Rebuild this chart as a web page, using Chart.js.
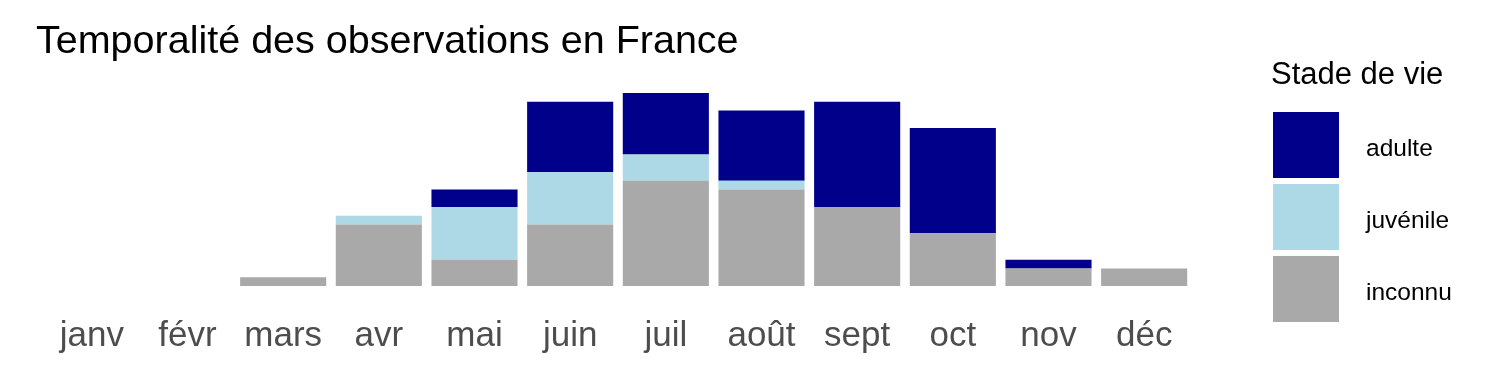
<!DOCTYPE html>
<html>
<head>
<meta charset="utf-8">
<script src="https://cdn.jsdelivr.net/npm/chart.js@4"></script>
<style>
  html, body { margin: 0; padding: 0; background: #fff; }
  #wrap { width: 1500px; height: 375px; }
</style>
</head>
<body>
<div id="wrap"><canvas id="c" width="1500" height="375"></canvas></div>
<script>
// données (nombre d'observations par mois)
var mois = ["janv", "févr", "mars", "avr", "mai", "juin", "juil", "août", "sept", "oct", "nov", "déc"];
var inconnu  = [0, 0, 1, 7, 3, 7, 12, 11, 9, 6, 2, 2];
var juvenile = [0, 0, 0, 1, 6, 6, 3, 1, 0, 0, 0, 0];
var adulte   = [0, 0, 0, 0, 2, 8, 7, 8, 12, 12, 1, 0];

var titre = "Temporalité des observations en France";
var titreLegende = "Stade de vie";
var FONT = "'Liberation Sans', Arial, sans-serif";

// légende + titre dessinés à la main, façon ggplot
var decor = {
    id: "decor",
    afterDraw: function (chart) {
        var ctx = chart.ctx;
        ctx.save();
        ctx.fillStyle = "#000";
        ctx.textAlign = "left";
        ctx.textBaseline = "alphabetic";
        ctx.font = "39.5px " + FONT;
        ctx.fillText(titre, 36, 53);

        ctx.font = "31px " + FONT;
        ctx.fillText(titreLegende, 1271, 84);

        // ordre de la légende : adulte, juvénile, inconnu
        var ordre = [2, 1, 0];
        ctx.font = "24.5px " + FONT;
        ctx.textBaseline = "middle";
        ordre.forEach(function (i, k) {
            var ds = chart.data.datasets[i];
            var y = 112 + k * 72;
            ctx.fillStyle = ds.backgroundColor;
            ctx.fillRect(1273, y, 66, 66);
            ctx.fillStyle = "#000";
            ctx.fillText(ds.label, 1366, y + 37);
        });
        ctx.restore();
    }
};

new Chart(document.getElementById("c").getContext("2d"), {
    type: "bar",
    data: {
        labels: mois,
        datasets: [
            { label: "inconnu",  data: inconnu,  backgroundColor: "#A9A9A9" },
            { label: "juvénile", data: juvenile, backgroundColor: "#ADD8E6" },
            { label: "adulte",   data: adulte,   backgroundColor: "#00008B" }
        ]
    },
    options: {
        responsive: false,
        animation: false,
        layout: { padding: { left: 44, right: 308, top: 93, bottom: 0 } },
        datasets: {
            bar: { barPercentage: 0.9, categoryPercentage: 1.0, borderWidth: 0 }
        },
        scales: {
            x: {
                stacked: true,
                grid: { display: false, drawTicks: false },
                border: { display: false },
                ticks: {
                    color: "#4D4D4D",
                    font: { family: FONT, size: 35 },
                    padding: 29,
                    maxRotation: 0,
                    autoSkip: false
                },
                afterFit: function (scale) { scale.height = 89; }
            },
            y: {
                stacked: true,
                display: false,
                min: 0,
                max: 22
            }
        },
        plugins: {
            legend: { display: false },
            title: { display: false },
            tooltip: { enabled: false }
        }
    },
    plugins: [decor]
});
</script>
</body>
</html>
